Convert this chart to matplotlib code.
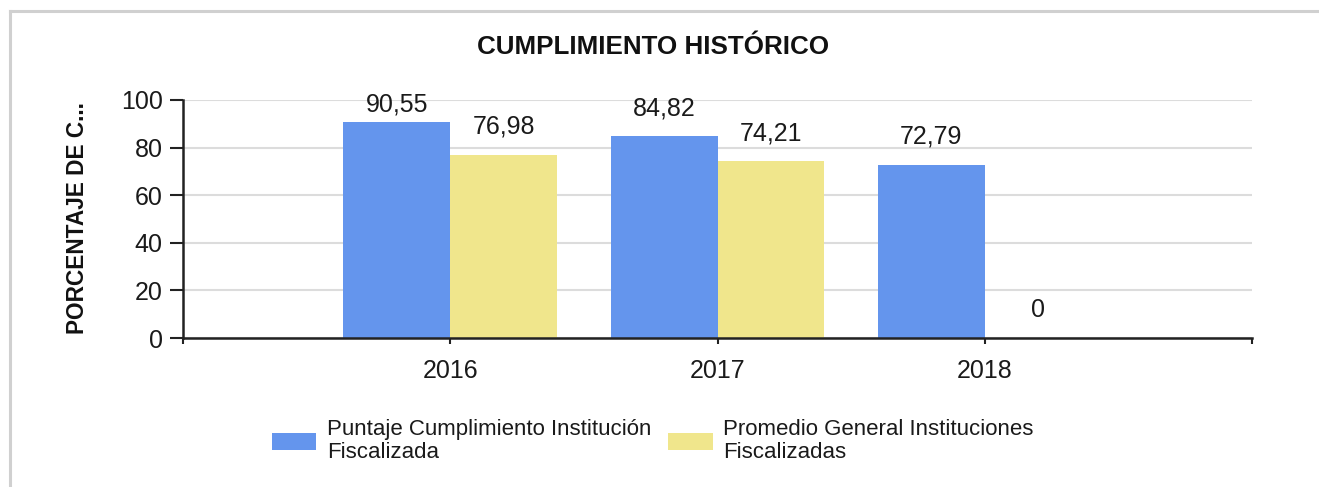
import matplotlib
matplotlib.use("Agg")
import matplotlib.pyplot as plt
from matplotlib.lines import Line2D
import numpy as np

plt.rcParams['font.family'] = ['Liberation Sans', 'DejaVu Sans']

years = ['2016', '2017', '2018']
puntaje = [90.55, 84.82, 72.79]
promedio = [76.98, 74.21, 0]
series_labels = ['Puntaje Cumplimiento Institución\nFiscalizada',
                 'Promedio General Instituciones\nFiscalizadas']
colors = ['#6495ED', '#F0E68C']
title = 'CUMPLIMIENTO HISTÓRICO'
ylabel = 'PORCENTAJE DE C...'

W, H = 1319, 487
fig = plt.figure(figsize=(W / 100, H / 100), dpi=100)
ax = fig.add_axes([183 / W, 1 - 338 / H, (1252 - 183) / W, (338 - 100) / H])

x = np.arange(1, len(years) + 1)
bw = 0.4
b1 = ax.bar(x - bw / 2, puntaje, bw, color=colors[0], label=series_labels[0], zorder=3)
b2 = ax.bar(x + bw / 2, promedio, bw, color=colors[1], label=series_labels[1], zorder=3)

def fmt(v):
    s = ('%.2f' % v).rstrip('0').rstrip('.')
    return s.replace('.', ',')

for bars, vals in ((b1, puntaje), (b2, promedio)):
    for rect, v in zip(bars, vals):
        ax.text(rect.get_x() + rect.get_width() / 2, min(v + 11.8, 97.9), fmt(v),
                ha='center', va='center', fontsize=18, color='#1a1a1a')

ax.set_xlim(0, len(years) + 1)
ax.set_ylim(0, 100)
ax.set_yticks([0, 20, 40, 60, 80, 100])
ax.set_xticks(np.arange(0, len(years) + 2))
ax.set_xticklabels([''] + years + [''])
ax.tick_params(axis='y', direction='out', length=9.5, width=1.5, pad=5,
               labelsize=18, labelcolor='#1a1a1a', color='#222222')
ax.tick_params(axis='x', direction='out', length=4, width=1.5, pad=11,
               labelsize=18, labelcolor='#1a1a1a', color='#222222')
ax.grid(axis='y', color='#dcdcdc', linewidth=1.5, zorder=0)
ax.set_axisbelow(True)
for s in ('top', 'right'):
    ax.spines[s].set_visible(False)
for s in ('left', 'bottom'):
    ax.spines[s].set_linewidth(1.8)
    ax.spines[s].set_color('#222222')
    ax.spines[s].set_zorder(4)

fig.text(653 / W, 1 - 46.5 / H, title, ha='center', va='center',
         fontsize=18.7, fontweight='bold', color='#111111')
fig.text(78 / W, 1 - 218 / H, ylabel, ha='center', va='center', rotation=90,
         fontsize=16.3, fontweight='bold', color='#111111')

leg = fig.legend(handles=[b1, b2], labels=series_labels, loc='center left',
                 bbox_to_anchor=(272 / W, 1 - 441 / H), ncol=2, frameon=False,
                 fontsize=16, handlelength=2.0, handleheight=0.78,
                 handletextpad=0.48, columnspacing=0.75, labelspacing=0.2,
                 borderpad=0, borderaxespad=0)
for t in leg.get_texts():
    t.set_color('#1a1a1a')
    t.set_linespacing(1.12)

# screenshot frame (top and left edges)
fig.add_artist(Line2D([9.5 / W, 1], [1 - 10.5 / H, 1 - 10.5 / H], color='#d0d0d0',
                      linewidth=2.2, transform=fig.transFigure))
fig.add_artist(Line2D([9.5 / W, 9.5 / W], [0, 1 - 10.5 / H], color='#d0d0d0',
                      linewidth=2.2, transform=fig.transFigure))

fig.savefig('out.png', dpi=100)
